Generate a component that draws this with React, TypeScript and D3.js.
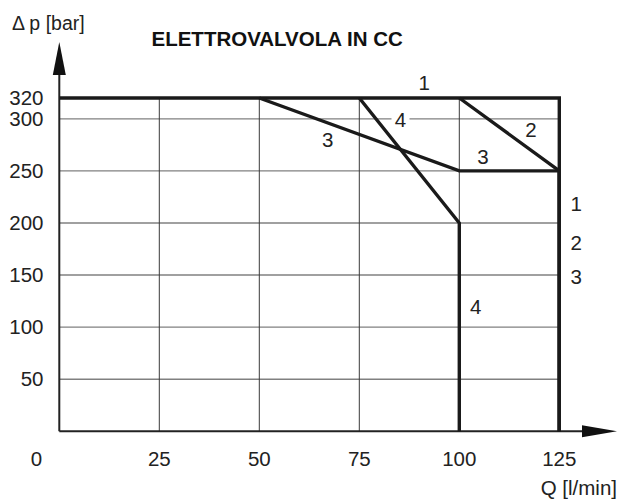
import React, { useEffect, useRef } from 'react';
import * as d3 from 'd3';

// flow Q [l/min] vs pressure drop [bar]
const xTicks = [0, 25, 50, 75, 100, 125];
const yTicks = [50, 100, 150, 200, 250, 300, 320];
const hGrid = [50, 100, 150, 200, 250, 300];
const vGrid = [25, 50, 75, 100, 125];

const curve1 = [[0, 320], [125, 320], [125, 0]];
const curve2 = [[100, 320], [125, 250], [125, 0]];
const curve3 = [[50, 320], [100, 250], [125, 250], [125, 0]];
const curve4 = [[75, 320], [100, 200], [100, 0]];

const curveLabels = [
  { t: '1', x: 91.2, y: 335 },
  { t: '4', x: 85.3, y: 299 },
  { t: '2', x: 117.9, y: 289.7 },
  { t: '3', x: 67.1, y: 280 },
  { t: '3', x: 105.9, y: 263.7 },
  { t: '1', x: 129.2, y: 218.6 },
  { t: '2', x: 129.2, y: 181 },
  { t: '3', x: 129.2, y: 148.2 },
  { t: '4', x: 104.1, y: 119.5 }
];

const title = 'ELETTROVALVOLA IN CC';
const yLabel = '\u0394 p [bar]';
const xLabel = 'Q [l/min]';

const App = () => {
  const container = useRef(null);

  const width = 619;
  const height = 500;
  const font = 'Liberation Sans, Arial, Helvetica, sans-serif';

  useEffect(() => {
    createChart();
  }, []);

  const createChart = () => {
    const svg = d3
      .select(container.current)
      .selectAll('svg')
      .data([0])
      .join('svg')
      .attr('width', width)
      .attr('height', height)
      .style('position', 'absolute')
      .style('left', 0)
      .style('top', 0)
      .style('font-family', font);

    svg.selectAll('*').remove();

    const xScale = d3.scaleLinear().domain([0, 125]).range([59.3, 559.3]);
    const yScale = d3.scaleLinear().domain([0, 320]).range([431.3, 98]);

    // grid
    svg
      .selectAll('.hgrid')
      .data(hGrid)
      .join('line')
      .attr('class', 'hgrid')
      .attr('x1', xScale(0))
      .attr('x2', xScale(125))
      .attr('y1', d => yScale(d))
      .attr('y2', d => yScale(d))
      .attr('stroke', '#808080')
      .attr('stroke-width', 1.4);

    svg
      .selectAll('.vgrid')
      .data(vGrid)
      .join('line')
      .attr('class', 'vgrid')
      .attr('x1', d => xScale(d))
      .attr('x2', d => xScale(d))
      .attr('y1', yScale(0))
      .attr('y2', yScale(320))
      .attr('stroke', '#3a3a3a')
      .attr('stroke-width', 1);

    // axes
    const axisColor = '#222';
    svg
      .append('line')
      .attr('x1', xScale(0))
      .attr('x2', 584)
      .attr('y1', yScale(0))
      .attr('y2', yScale(0))
      .attr('stroke', axisColor)
      .attr('stroke-width', 2);
    svg
      .append('path')
      .attr('d', `M582,${yScale(0) - 6}L617,${yScale(0)}L582,${yScale(0) + 6}Z`)
      .attr('fill', '#111');
    svg
      .append('line')
      .attr('x1', xScale(0))
      .attr('x2', xScale(0))
      .attr('y1', yScale(0))
      .attr('y2', 73)
      .attr('stroke', axisColor)
      .attr('stroke-width', 2);
    svg
      .append('path')
      .attr('d', `M${xScale(0) - 6.5},75L${xScale(0)},42L${xScale(0) + 6.5},75Z`)
      .attr('fill', '#111');

    // curves
    const line = d3
      .line()
      .x(d => xScale(d[0]))
      .y(d => yScale(d[1]));

    svg
      .selectAll('.curve')
      .data([curve1, curve2, curve3, curve4])
      .join('path')
      .attr('class', 'curve')
      .attr('d', d => line(d))
      .attr('fill', 'none')
      .attr('stroke', '#1a1a1a')
      .attr('stroke-width', 3.4)
      .attr('stroke-linejoin', 'miter');

    // tick labels
    svg
      .selectAll('.xtick')
      .data(xTicks)
      .join('text')
      .attr('class', 'xtick')
      .attr('x', d => (d === 0 ? 36.5 : xScale(d)))
      .attr('y', 465.5)
      .attr('text-anchor', 'middle')
      .attr('font-size', 20.5)
      .attr('fill', '#222')
      .text(d => d);

    svg
      .selectAll('.ytick')
      .data(yTicks)
      .join('text')
      .attr('class', 'ytick')
      .attr('x', 43.5)
      .attr('y', d => yScale(d))
      .attr('dy', '0.35em')
      .attr('text-anchor', 'end')
      .attr('font-size', 20.5)
      .attr('fill', '#222')
      .text(d => d);

    // curve labels (the "4" near the top sits on a white patch over the 300 grid line)
    const lbl = svg
      .selectAll('.clabel')
      .data(curveLabels)
      .join('g')
      .attr('class', 'clabel')
      .attr('transform', d => `translate(${xScale(d.x)},${yScale(d.y)})`);
    lbl
      .filter((d, i) => i === 1)
      .append('rect')
      .attr('x', -9)
      .attr('y', -4)
      .attr('width', 18)
      .attr('height', 7)
      .attr('fill', '#fff');
    lbl
      .append('text')
      .attr('text-anchor', 'middle')
      .attr('dy', '0.35em')
      .attr('font-size', 20.5)
      .attr('fill', '#222')
      .text(d => d.t);

    // titles
    svg
      .append('text')
      .attr('x', 151.5)
      .attr('y', 46)
      .attr('font-size', 20.5)
      .attr('font-weight', 'bold')
      .attr('fill', '#111')
      .text(title);
    svg
      .append('text')
      .attr('x', 12)
      .attr('y', 29.5)
      .attr('font-size', 19.5)
      .attr('fill', '#222')
      .text(yLabel);
    svg
      .append('text')
      .attr('x', 617)
      .attr('y', 494.5)
      .attr('text-anchor', 'end')
      .attr('font-size', 20.5)
      .attr('fill', '#222')
      .text(xLabel);
  };

  return <div className="chart-container" ref={container}></div>;
};

export default App;
